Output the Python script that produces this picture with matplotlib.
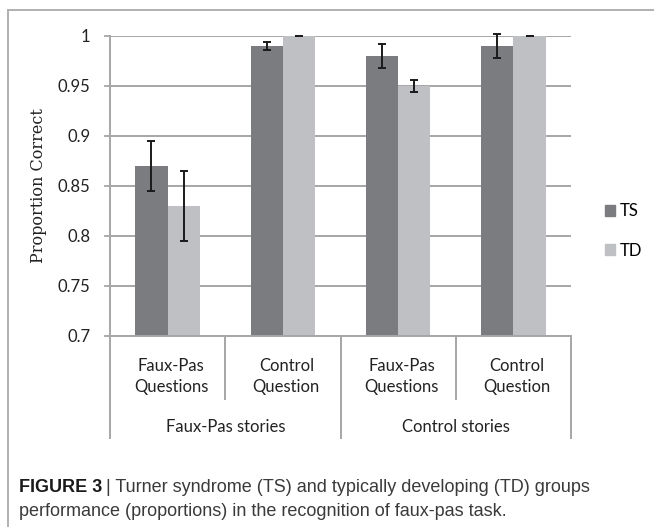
import matplotlib
matplotlib.use('Agg')
import matplotlib.pyplot as plt
from matplotlib.patches import Patch
from matplotlib.lines import Line2D
import numpy as np

# data
questions = ['Faux-Pas\nQuestions', 'Control\nQuestion', 'Faux-Pas\nQuestions', 'Control\nQuestion']
stories = ['Faux-Pas stories', 'Control stories']
ts_vals = [0.87, 0.99, 0.98, 0.99]
td_vals = [0.83, 1.0, 0.95, 1.0]
ts_err = [0.025, 0.004, 0.012, 0.012]
td_err = [0.035, 0.0, 0.006, 0.0]
yticks = [0.7, 0.75, 0.8, 0.85, 0.9, 0.95, 1.0]
ytick_labels = ['0.7', '0.75', '0.8', '0.85', '0.9', '0.95', '1']

ts_col = '#7b7c80'
td_col = '#bfc0c4'
grid_col = '#a6a6a6'
W, H = 654, 527
fs = 12

fig = plt.figure(figsize=(W/100, H/100), dpi=100)
ax = fig.add_axes([110/W, 1-336/H, (571-110)/W, 300/H])

x = np.arange(len(questions))
bw = 0.28
ax.bar(x - bw/2, ts_vals, bw, color=ts_col, zorder=2)
ax.bar(x + bw/2, td_vals, bw, color=td_col, zorder=2)
ax.errorbar(x - bw/2, ts_vals, yerr=ts_err, fmt='none', ecolor='#1a1a1a',
            elinewidth=1.4, capsize=3, capthick=1.4, zorder=3, clip_on=False)
ax.errorbar(x + bw/2, td_vals, yerr=td_err, fmt='none', ecolor='#1a1a1a',
            elinewidth=1.4, capsize=3, capthick=1.4, zorder=3, clip_on=False)

ax.set_xlim(-0.5, 3.5)
ax.set_ylim(0.7, 1.0)
ax.set_yticks(yticks)
ax.set_yticklabels(ytick_labels, fontfamily='Lato', fontsize=fs, color='#222222')
ax.tick_params(axis='y', length=4, width=1.3, color=grid_col, pad=10)
ax.set_xticks([])
ax.yaxis.grid(True, color=grid_col, linewidth=1.4, zorder=0)
ax.set_axisbelow(True)
for s in ['top', 'right', 'bottom']:
    ax.spines[s].set_visible(False)
ax.spines['left'].set_color(grid_col)
ax.spines['left'].set_linewidth(1.4)

ax.set_ylabel('Proportion Correct', fontfamily='DejaVu Serif', fontsize=11.5, color='#222222', labelpad=8)

# hierarchical category axis
tr = ax.get_xaxis_transform()
ax.plot([-0.5, 3.5], [0, 0], transform=tr, color=grid_col, lw=1.4, clip_on=False)
for xs, y0 in [(-0.5, -0.34), (0.5, -0.21), (1.5, -0.34), (2.5, -0.21), (3.5, -0.34)]:
    ax.plot([xs, xs], [0, y0], transform=tr, color=grid_col, lw=1.4, clip_on=False)
for i, q in enumerate(questions):
    ax.text(i + 0.03, -0.135, q, transform=tr, ha='center', va='center',
            fontfamily='Lato', fontsize=fs, color='#222222', linespacing=1.4)
for j, s in enumerate(stories):
    ax.text(2*j + 0.5, -0.303, s, transform=tr, ha='center', va='center',
            fontfamily='Lato', fontsize=fs, color='#222222')

handles = [Patch(color=ts_col), Patch(color=td_col)]
fig.legend(handles, ['TS', 'TD'], loc='center left', bbox_to_anchor=(590/W, 1-231/H),
           frameon=False, handlelength=0.6, handleheight=0.6, handletextpad=0.3,
           labelspacing=1.4, prop={'family': 'Lato', 'size': fs})

# frame around chart + caption
fig.add_artist(Line2D([8/W, 1], [1-10/H, 1-10/H], color='#b0b0b0', lw=1.4))
fig.add_artist(Line2D([8/W, 8/W], [0, 1-10/H], color='#b0b0b0', lw=1.4))

cap_font = ['Liberation Sans', 'DejaVu Sans']
cap_fs = 13
t1 = fig.text(19/W, 1-492/H, 'FIGURE 3', fontweight='bold', fontsize=cap_fs,
              family=cap_font, color='#1a1a1a', va='baseline')
fig.canvas.draw()
bb = t1.get_window_extent()
fig.text(bb.x1/W + 4/W, 1-492/H, '| Turner syndrome (TS) and typically developing (TD) groups',
         fontsize=cap_fs, family=cap_font, color='#3a3a3a', va='baseline')
fig.text(19/W, 1-516/H, 'performance (proportions) in the recognition of faux-pas task.',
         fontsize=cap_fs, family=cap_font, color='#3a3a3a', va='baseline')

fig.savefig('out.png', dpi=100)
